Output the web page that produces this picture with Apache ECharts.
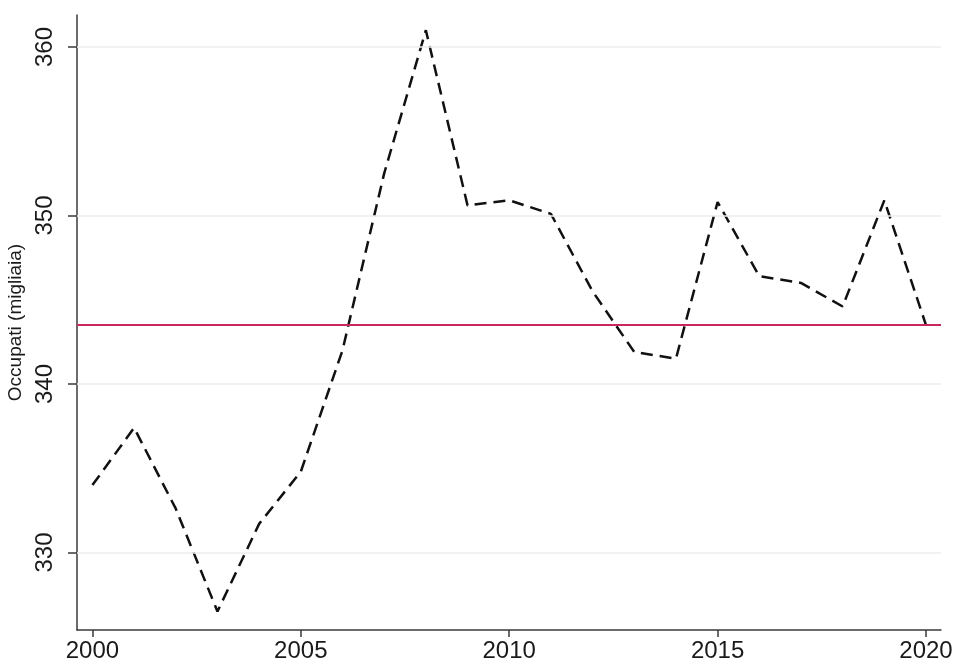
<!DOCTYPE html>
<html>
<head>
<meta charset="utf-8">
<script src="https://cdn.jsdelivr.net/npm/echarts@6/dist/echarts.min.js"></script>
<style>
  html, body { margin: 0; padding: 0; background: #fff; }
  #chart { width: 956px; height: 666px; }
</style>
</head>
<body>
<div id="chart"></div>
<script>
// anni e occupati (migliaia)
const years = [2000, 2001, 2002, 2003, 2004, 2005, 2006, 2007, 2008, 2009, 2010,
  2011, 2012, 2013, 2014, 2015, 2016, 2017, 2018, 2019, 2020];
const occupati = [334.0, 337.4, 332.6, 326.5, 331.7, 334.8, 342.0, 352.5, 361.0, 350.6, 350.9,
  350.1, 345.5, 341.9, 341.5, 350.8, 346.4, 346.0, 344.6, 350.9, 343.5];
const media = 343.5;           // linea orizzontale rossa
const xTicks = [2000, 2005, 2010, 2015, 2020];
const yTicks = [330, 340, 350, 360];

const chart = echarts.init(document.getElementById('chart'));
const font = "'Liberation Sans', Arial, sans-serif";

let option = {
  animation: false,
  backgroundColor: '#fff',
  grid: {
    left: 77,
    right: 15,
    top: 15,
    bottom: 36,
    outerBoundsMode: 'none'
  },
  xAxis: {
    type: 'value',
    min: 1999.63,
    max: 2020.36,
    axisLine: { show: true, lineStyle: { color: '#3a3a3a', width: 1.5 } },
    axisTick: { show: true, length: 7, customValues: xTicks, lineStyle: { color: '#3a3a3a', width: 1.5 } },
    axisLabel: {
      customValues: xTicks,
      margin: 9,
      color: '#1a1a1a',
      fontSize: 24,
      fontFamily: font,
      formatter: function (v) { return String(Math.round(v)); }
    },
    splitLine: { show: false }
  },
  yAxis: {
    type: 'value',
    min: 325.4,
    max: 361.9,
    name: 'Occupati (migliaia)',
    nameLocation: 'middle',
    nameRotate: 90,
    nameGap: 46,
    nameTextStyle: { color: '#1a1a1a', fontSize: 19, fontFamily: font },
    axisLine: { show: true, lineStyle: { color: '#3a3a3a', width: 1.5 } },
    axisTick: { show: true, length: 9, customValues: yTicks, lineStyle: { color: '#3a3a3a', width: 1.5 } },
    axisLabel: {
      customValues: yTicks,
      rotate: 90,
      margin: 20,
      color: '#1a1a1a',
      fontSize: 24,
      fontFamily: font
    },
    splitLine: { show: false }
  },
  series: [
    {
      // griglia orizzontale leggera
      type: 'line',
      data: [],
      silent: true,
      markLine: {
        symbol: 'none',
        silent: true,
        label: { show: false },
        lineStyle: { color: '#ececec', width: 1.5, type: 'solid' },
        data: yTicks.map(v => ({ yAxis: v }))
      }
    },
    {
      type: 'line',
      name: 'Occupati',
      data: years.map((y, i) => [y, occupati[i]]),
      symbol: 'none',
      lineStyle: { color: '#111', width: 2.5, type: [12, 7] },
      z: 3
    },
    {
      type: 'line',
      data: [],
      markLine: {
        symbol: 'none',
        silent: true,
        label: { show: false },
        lineStyle: { color: '#c8285e', width: 2, type: 'solid' },
        data: [{ yAxis: media }]
      },
      z: 2
    }
  ]
};

chart && chart.setOption(option);
window.addEventListener('resize', function () {
  chart.resize();
});
</script>
</body>
</html>
